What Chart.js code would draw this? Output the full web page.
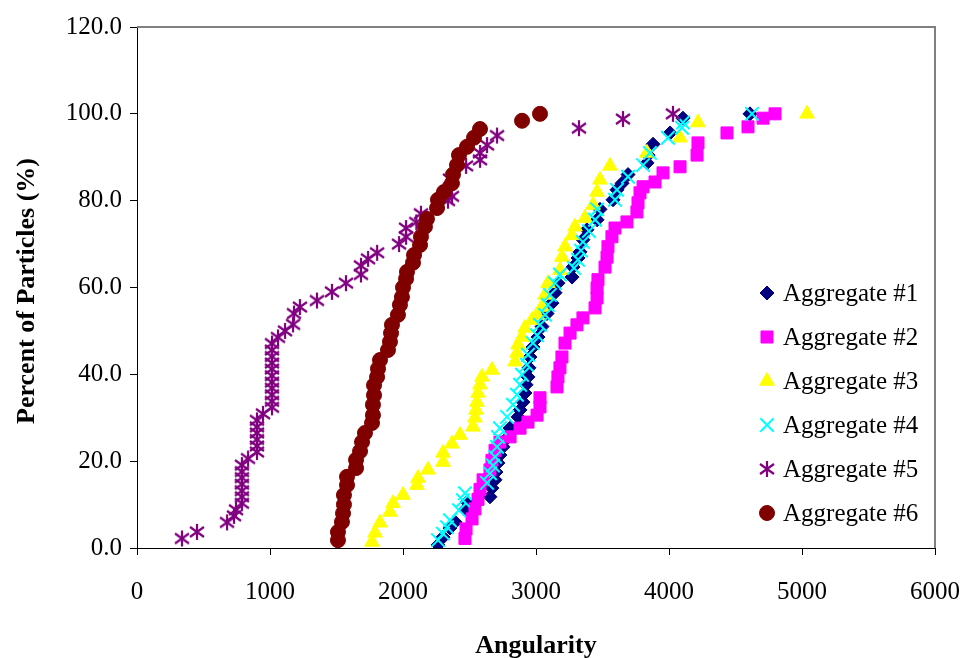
<!DOCTYPE html>
<html>
<head>
<meta charset="utf-8">
<script src="https://cdn.jsdelivr.net/npm/chart.js@4/dist/chart.umd.min.js"></script>
<style>
  body { margin: 0; background: #fff; }
  #wrap { width: 962px; height: 658px; }
</style>
</head>
<body>
<div id="wrap"><canvas id="chart" width="962" height="658"></canvas></div>
<script>
// Cumulative angularity distributions
const seriesNames = ['Aggregate #1', 'Aggregate #2', 'Aggregate #3', 'Aggregate #4', 'Aggregate #5', 'Aggregate #6'];

const agg1Ang = [2263, 2301, 2353, 2391, 2466, 2481, 2654, 2669, 2692, 2699, 2714, 2729, 2752, 2782, 2805, 2865, 2880, 2902, 2917, 2925, 2940, 2947, 2955, 2977, 3015, 3045, 3083, 3120, 3143, 3165, 3271, 3278, 3316, 3331, 3353, 3383, 3459, 3481, 3579, 3609, 3647, 3692, 3835, 3843, 3880, 4008, 4105, 4609];
const agg1Pct = [0.7, 2.5, 4.6, 6.0, 8.8, 10.6, 11.8, 13.8, 15.7, 17.5, 19.6, 21.4, 23.3, 25.3, 27.6, 30.2, 31.8, 33.6, 35.7, 37.6, 39.4, 41.5, 44.0, 46.3, 48.6, 51.0, 54.0, 56.4, 58.8, 61.0, 62.4, 64.7, 66.8, 68.2, 71.0, 73.3, 75.6, 78.0, 80.2, 82.5, 84.0, 86.0, 88.7, 90.5, 93.0, 95.6, 99.0, 100.0];

const agg2Ang = [2466, 2474, 2519, 2541, 2564, 2579, 2602, 2654, 2669, 2692, 2729, 2805, 2880, 2940, 3008, 3030, 3030, 3158, 3165, 3180, 3195, 3218, 3256, 3308, 3353, 3444, 3459, 3459, 3466, 3519, 3534, 3541, 3571, 3594, 3684, 3759, 3767, 3782, 3805, 3895, 3955, 4083, 4211, 4218, 4436, 4594, 4707, 4797];
const agg2Pct = [2.2, 4.4, 6.7, 9.0, 11.2, 13.5, 15.7, 18.0, 20.2, 22.5, 24.4, 25.6, 27.6, 29.0, 30.6, 32.5, 34.6, 37.1, 39.4, 41.5, 44.0, 47.2, 49.5, 51.4, 53.0, 55.3, 57.6, 59.9, 61.8, 64.7, 67.0, 69.4, 71.7, 73.7, 75.1, 77.4, 79.5, 81.8, 83.2, 84.3, 86.4, 87.8, 90.5, 93.3, 95.6, 97.0, 99.0, 100.0];

const agg3Ang = [1767, 1790, 1827, 1902, 1925, 2000, 2105, 2113, 2188, 2301, 2301, 2368, 2429, 2526, 2541, 2549, 2556, 2564, 2579, 2594, 2669, 2842, 2857, 2865, 2895, 2917, 2970, 3008, 3045, 3068, 3090, 3180, 3195, 3218, 3271, 3293, 3368, 3429, 3459, 3481, 3556, 3835, 4083, 4218, 5038];
const agg3Pct = [1.4, 3.5, 5.8, 8.3, 10.3, 12.2, 14.5, 16.1, 18.0, 19.8, 21.9, 24.0, 26.0, 27.9, 30.0, 31.8, 33.6, 35.7, 37.6, 39.4, 41.0, 42.9, 44.9, 46.8, 48.6, 50.7, 52.5, 53.7, 55.5, 58.3, 61.0, 64.0, 67.0, 69.4, 72.0, 74.0, 76.0, 79.0, 82.0, 84.8, 88.0, 91.0, 94.5, 98.0, 100.0];

const agg4Ang = [2263, 2301, 2331, 2353, 2421, 2451, 2466, 2632, 2654, 2677, 2692, 2707, 2714, 2729, 2782, 2827, 2857, 2880, 2895, 2932, 2940, 2977, 3008, 3030, 3068, 3090, 3105, 3143, 3180, 3286, 3316, 3338, 3353, 3398, 3444, 3459, 3594, 3609, 3692, 3805, 3857, 3992, 4098, 4105, 4624];
const agg4Pct = [1.8, 3.3, 4.8, 6.4, 8.7, 11.0, 12.6, 15.0, 17.2, 19.0, 21.0, 23.3, 25.6, 27.6, 30.2, 33.0, 35.3, 37.6, 39.9, 42.2, 44.5, 47.2, 49.0, 51.4, 53.7, 56.0, 58.3, 61.0, 63.0, 64.5, 66.4, 68.5, 70.5, 73.0, 75.6, 78.0, 80.2, 82.5, 85.5, 88.2, 91.0, 94.5, 96.8, 98.0, 100.0];

const agg5Ang = [338, 451, 677, 729, 744, 789, 789, 789, 789, 789, 789, 789, 835, 902, 902, 902, 902, 902, 902, 947, 1015, 1015, 1015, 1015, 1015, 1015, 1015, 1015, 1015, 1015, 1015, 1060, 1113, 1173, 1180, 1225, 1353, 1466, 1571, 1684, 1684, 1737, 1805, 1970, 2023, 2023, 2100, 2135, 2338, 2368, 2353, 2474, 2579, 2579, 2632, 2707, 3323, 3654, 4030];
const agg5Pct = [2.2, 3.7, 5.9, 7.4, 8.8, 10.3, 11.8, 13.2, 14.7, 16.2, 17.6, 19.1, 20.6, 22.1, 23.5, 25.0, 26.5, 27.9, 29.4, 30.9, 32.4, 33.8, 35.3, 36.8, 38.2, 39.7, 41.2, 42.6, 44.1, 45.6, 47.1, 48.5, 50.0, 51.5, 54.0, 55.5, 57.0, 59.0, 61.0, 63.0, 65.0, 66.6, 68.0, 70.0, 71.7, 73.7, 75.0, 77.0, 80.0, 81.0, 85.0, 88.0, 89.4, 91.0, 92.8, 95.0, 96.7, 98.8, 100.0];

const agg6Ang = [1511, 1511, 1541, 1549, 1556, 1556, 1579, 1579, 1647, 1647, 1677, 1692, 1714, 1767, 1774, 1774, 1782, 1782, 1805, 1812, 1827, 1887, 1902, 1910, 1917, 1962, 1977, 1992, 2000, 2023, 2030, 2075, 2083, 2128, 2135, 2165, 2180, 2256, 2263, 2308, 2368, 2376, 2406, 2421, 2481, 2534, 2579, 2895, 3030];
const agg6Pct = [1.8, 3.7, 6.0, 8.0, 10.0, 12.2, 14.5, 16.4, 18.4, 20.3, 22.3, 24.4, 26.5, 28.8, 30.6, 33.0, 35.2, 37.5, 39.4, 41.3, 43.3, 45.6, 47.5, 49.5, 51.4, 53.7, 56.0, 57.8, 60.0, 62.0, 63.6, 65.7, 67.5, 69.8, 71.7, 74.0, 75.8, 78.3, 80.2, 82.0, 84.0, 86.0, 88.2, 90.5, 92.4, 94.5, 96.5, 98.4, 100.0];

const xTicks = [0, 1000, 2000, 3000, 4000, 5000, 6000];
const yTicks = [0, 20, 40, 60, 80, 100, 120];

const FONT = "'Liberation Serif', 'Times New Roman', serif";

// Excel style asterisk marker: vertical stroke plus an X
function makeStar(color) {
    const c = document.createElement('canvas');
    c.width = 18; c.height = 18;
    const g = c.getContext('2d');
    g.strokeStyle = color;
    g.lineWidth = 2.2;
    g.beginPath();
    g.moveTo(9, 1); g.lineTo(9, 17);
    g.moveTo(2, 4); g.lineTo(16, 14);
    g.moveTo(16, 4); g.lineTo(2, 14);
    g.stroke();
    return c;
}
const starMark = makeStar('#800080');

function toPoints(xs, ys) {
    return xs.map((x, i) => ({ x: x, y: ys[i] }));
}

const seriesData = [
    toPoints(agg1Ang, agg1Pct), toPoints(agg2Ang, agg2Pct), toPoints(agg3Ang, agg3Pct),
    toPoints(agg4Ang, agg4Pct), toPoints(agg5Ang, agg5Pct), toPoints(agg6Ang, agg6Pct)
];
const styles = [
    { color: '#000080', style: 'rectRot', r: 7, bw: 1 },
    { color: '#FF00FF', style: 'rect', r: 8.5, bw: 1 },
    { color: '#FFFF00', style: 'triangle', r: 8.5, bw: 1 },
    { color: '#00FFFF', style: 'crossRot', r: 9.5, bw: 2 },
    { color: '#800080', style: starMark, r: 9, bw: 1 },
    { color: '#800000', style: 'circle', r: 7.5, bw: 1 }
];

const datasets = seriesNames.map((name, i) => ({
    label: name,
    data: seriesData[i],
    showLine: false,
    pointStyle: styles[i].style,
    pointRadius: styles[i].r,
    pointHoverRadius: styles[i].r,
    pointBackgroundColor: styles[i].color,
    pointBorderColor: styles[i].color,
    pointBorderWidth: styles[i].bw,
    order: 6 - i // later series on top, like Excel
}));

// titles, plot frame and the legend inside the plot
const decorPlugin = {
    id: 'decor',
    afterDraw(chart) {
        const ctx = chart.ctx;
        const a = chart.chartArea;
        ctx.save();
        ctx.strokeStyle = '#808080';
        ctx.lineWidth = 2;
        ctx.beginPath();
        ctx.moveTo(a.left, a.top);
        ctx.lineTo(a.right, a.top);
        ctx.lineTo(a.right, a.bottom);
        ctx.stroke();

        ctx.fillStyle = '#000';
        ctx.font = 'bold 26px ' + FONT;
        ctx.textAlign = 'center';
        ctx.textBaseline = 'alphabetic';
        ctx.fillText('Angularity', (a.left + a.right) / 2, 653);

        ctx.save();
        ctx.translate(34, 291);
        ctx.rotate(-Math.PI / 2);
        ctx.fillText('Percent of Particles (%)', 0, 0);
        ctx.restore();

        ctx.font = '25px ' + FONT;
        ctx.textAlign = 'left';
        ctx.textBaseline = 'middle';
        seriesNames.forEach((name, i) => {
            const y = 293 + i * 44;
            const s = styles[i];
            ctx.fillStyle = s.color;
            ctx.strokeStyle = s.color;
            ctx.lineWidth = s.bw;
            Chart.helpers.drawPoint(ctx, { pointStyle: s.style, radius: s.r, borderWidth: s.bw, rotation: 0 }, 767, y);
            ctx.fillStyle = '#000';
            ctx.fillText(name, 783, y + 1);
        });
        ctx.restore();
    }
};

new Chart(document.getElementById('chart'), {
    type: 'scatter',
    data: { datasets: datasets },
    options: {
        responsive: false,
        animation: false,
        layout: { padding: { top: 27, right: 27, left: 0, bottom: 0 } },
        plugins: { legend: { display: false }, tooltip: { enabled: false } },
        scales: {
            x: {
                type: 'linear',
                min: xTicks[0],
                max: xTicks[xTicks.length - 1],
                afterBuildTicks: s => { s.ticks = xTicks.map(v => ({ value: v })); },
                afterFit: s => { s.height = 110; s.paddingLeft = 0; s.paddingRight = 0; },
                grid: { drawOnChartArea: false, drawTicks: true, tickLength: 7, color: '#000' },
                border: { color: '#000', width: 1 },
                ticks: { color: '#000', font: { family: FONT, size: 25 }, padding: 22, maxRotation: 0, callback: v => String(v) }
            },
            y: {
                type: 'linear',
                min: yTicks[0],
                max: yTicks[yTicks.length - 1],
                afterBuildTicks: s => { s.ticks = yTicks.map(v => ({ value: v })); },
                afterFit: s => { s.width = 137; s.paddingTop = 0; s.paddingBottom = 0; },
                grid: { drawOnChartArea: false, drawTicks: true, tickLength: 7, color: '#000' },
                border: { color: '#000', width: 1 },
                ticks: { color: '#000', font: { family: FONT, size: 25 }, padding: 8, callback: v => v.toFixed(1) }
            }
        }
    },
    plugins: [decorPlugin]
});
</script>
</body>
</html>
